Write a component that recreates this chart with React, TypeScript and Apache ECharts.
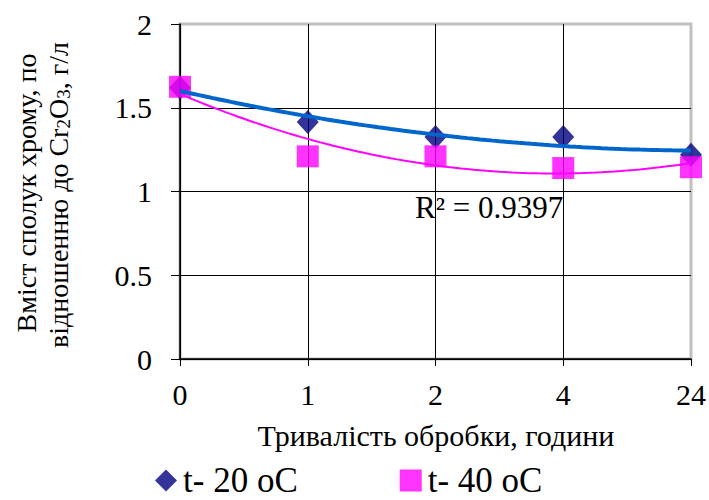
import React, { useEffect, useRef } from "react";
import * as echarts from "echarts";

const categories = ["0", "1", "2", "4", "24"];
const t20Values = [1.62, 1.415, 1.325, 1.325, 1.22];
const t40Values = [1.625, 1.21, 1.21, 1.14, 1.145];
const seriesNames = ["t- 20 oC", "t- 40 oC"];
const r2Label = "R² = 0.9397";
const yTitleLine1 = "Вміст сполук хрому, по";
const yTitleLine2 = "відношенню до Cr{sub|2}O{sub|3}, г/л";
const xTitle = "Тривалість обробки, години";

const FONT = "Liberation Serif";

// quadratic least-squares fit (Excel polynomial trendline, order 2)
function polyfit2(ys: number[]): number[] {
  const n = ys.length;
  let s0 = 0, s1 = 0, s2 = 0, s3 = 0, s4 = 0, t0 = 0, t1 = 0, t2 = 0;
  for (let i = 0; i < n; i++) {
    const x = i, y = ys[i];
    s0 += 1; s1 += x; s2 += x * x; s3 += x * x * x; s4 += x * x * x * x;
    t0 += y; t1 += x * y; t2 += x * x * y;
  }
  const A = [
    [s0, s1, s2, t0],
    [s1, s2, s3, t1],
    [s2, s3, s4, t2],
  ];
  for (let c = 0; c < 3; c++) {
    for (let r = c + 1; r < 3; r++) {
      const f = A[r][c] / A[c][c];
      for (let k = c; k < 4; k++) A[r][k] -= f * A[c][k];
    }
  }
  const coef = [0, 0, 0];
  for (let r = 2; r >= 0; r--) {
    let s = A[r][3];
    for (let k = r + 1; k < 3; k++) s -= A[r][k] * coef[k];
    coef[r] = s / A[r][r];
  }
  return coef;
}

function trend(ys: number[]): number[][] {
  const [a, b, c] = polyfit2(ys);
  const pts: number[][] = [];
  const last = ys.length - 1;
  for (let i = 0; i <= 80; i++) {
    const x = (last * i) / 80;
    pts.push([x, a + b * x + c * x * x]);
  }
  return pts;
}

export default function App() {
  const ref = useRef<HTMLDivElement>(null);
  useEffect(() => {
    document.body.style.margin = "0";
    const chart = echarts.init(ref.current!, null, { renderer: "svg" });
    chart.setOption({
      animation: false,
      backgroundColor: "#ffffff",
      textStyle: { fontFamily: FONT },
      grid: {
        left: 180,
        right: 17,
        top: 24,
        bottom: 141,
        show: true,
        borderColor: "#c0c0c0",
        borderWidth: 3,
      },
      legend: {
        data: [
          { name: seriesNames[0], icon: "diamond" },
          { name: seriesNames[1], icon: "rect" },
        ],
        left: 155,
        top: 463,
        padding: 0,
        itemWidth: 22,
        itemHeight: 22,
        itemGap: 102,
        textStyle: {
          fontFamily: FONT,
          fontSize: 35,
          lineHeight: 30,
          color: "#000",
          padding: [0, 0, 0, 1],
        },
      },
      xAxis: {
        type: "value",
        min: 0,
        max: categories.length - 1,
        interval: 1,
        axisLine: { show: true, lineStyle: { color: "#000", width: 1.5 } },
        axisTick: { show: true, length: 7, lineStyle: { color: "#000" } },
        axisLabel: {
          margin: 20,
          fontFamily: FONT,
          fontSize: 30,
          color: "#000",
          formatter: (v: number) => categories[Math.round(v)] ?? "",
        },
        splitLine: { show: true, showMaxLine: false, lineStyle: { color: "#000", width: 1 } },
      },
      yAxis: {
        type: "value",
        min: 0,
        max: 2,
        interval: 0.5,
        axisLine: { show: true, lineStyle: { color: "#000", width: 1.5 } },
        axisTick: { show: true, length: 9, lineStyle: { color: "#000" } },
        axisLabel: {
          margin: 28,
          fontFamily: FONT,
          fontSize: 30,
          color: "#000",
          formatter: (v: number) => String(v),
        },
        splitLine: { show: true, showMaxLine: false, lineStyle: { color: "#000", width: 1 } },
      },
      series: [
        {
          name: seriesNames[0],
          type: "scatter",
          symbol: "diamond",
          symbolSize: [22, 24],
          itemStyle: { color: "#000080" },
          data: t20Values.map((v, i) => [i, v]),
          z: 2,
        },
        {
          name: seriesNames[1],
          type: "scatter",
          symbol: "rect",
          symbolSize: 22,
          itemStyle: { color: "#ff00ff" },
          data: t40Values.map((v, i) => [i, v]),
          z: 3,
        },
        {
          name: "trend40",
          type: "line",
          showSymbol: false,
          smooth: false,
          lineStyle: { color: "#ff00ff", width: 2 },
          data: trend(t40Values),
          z: 4,
          silent: true,
        },
        {
          name: "trend20",
          type: "line",
          showSymbol: false,
          smooth: false,
          lineStyle: { color: "#0066cc", width: 4 },
          data: trend(t20Values),
          z: 5,
          silent: true,
        },
      ],
      graphic: [
        {
          type: "text",
          x: 415,
          y: 207,
          style: {
            text: r2Label,
            fontFamily: FONT,
            fontSize: 31,
            fill: "#000",
            textAlign: "left",
            textVerticalAlign: "middle",
          },
          z: 10,
        },
        {
          type: "text",
          x: 436,
          y: 435,
          style: {
            text: xTitle,
            fontFamily: FONT,
            fontSize: 30,
            fill: "#000",
            textAlign: "center",
            textVerticalAlign: "middle",
          },
        },
        {
          type: "text",
          x: 26,
          y: 193,
          rotation: Math.PI / 2,
          style: {
            text: yTitleLine1,
            fontFamily: FONT,
            fontSize: 28,
            fill: "#000",
            textAlign: "center",
            textVerticalAlign: "middle",
          },
        },
        {
          type: "text",
          x: 58,
          y: 195,
          rotation: Math.PI / 2,
          style: {
            text: yTitleLine2,
            fontFamily: FONT,
            fontSize: 28,
            fill: "#000",
            textAlign: "center",
            textVerticalAlign: "middle",
            rich: {
              sub: {
                fontFamily: FONT,
                fontSize: 19,
                fill: "#000",
                verticalAlign: "bottom",
                padding: [10, 0, 0, 0],
              },
            },
          },
        },
      ],
    });
    return () => chart.dispose();
  }, []);
  return (
    <div
      ref={ref}
      style={{ position: "fixed", left: 0, top: 0, width: 709, height: 500 }}
    />
  );
}
